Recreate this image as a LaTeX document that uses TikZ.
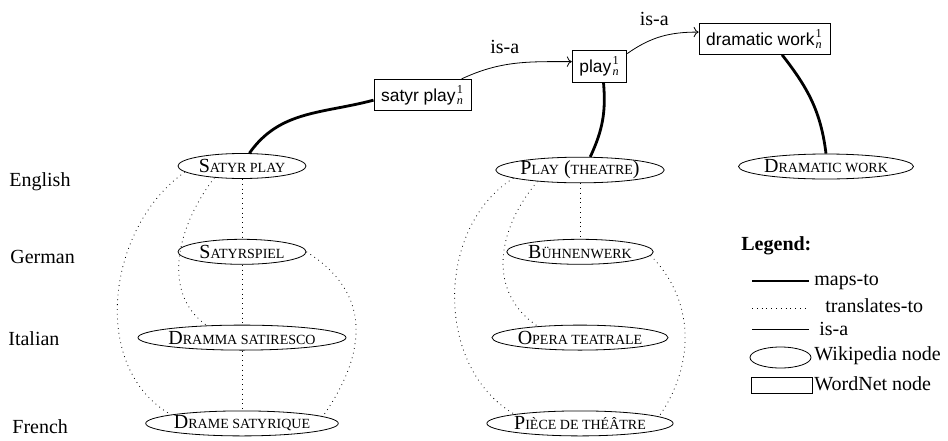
\documentclass[tikz,border=0pt]{standalone}
\usepackage{amsmath}
\usepackage{fontspec}
\setmainfont{Liberation Serif}
\setsansfont{Liberation Sans}
\usetikzlibrary{arrows.meta,positioning,shapes.geometric}
\newcommand{\smc}{\fontsize{7}{8}\selectfont}
\newcommand{\synidx}{\kern.6pt$^{\textrm{1}}_{\textrm{\itshape n}}$}
\tikzset{
  wpnode/.style={draw, ellipse, inner sep=0pt, minimum width=64pt, minimum height=12.5pt},
  wnbox/.style={draw, rectangle, inner xsep=3.6pt, inner ysep=3pt, font={\sffamily\fontsize{8.7}{10}\selectfont}},
  langlbl/.style={anchor=base west, inner sep=0pt},
  legtxt/.style={anchor=base west, inner sep=0pt},
  mapsto/.style={line width=1.4pt},
  transto/.style={dotted},
  isaarr/.style={->}
}

\begin{document}
\begin{tikzpicture}[x=0.5pt, y=-0.5pt, node distance=30pt]
  \useasboundingbox (0,0) rectangle (948,440);
  % WordNet synsets
  \node[wnbox] (wnsatyr) at (422.5,95) {satyr play\synidx};
  \node[wnbox] (wnplay) at (599.5,66.5) {play\synidx};
  \node[wnbox] (wndrama) at (764.5,39) {dramatic work\synidx};
  % Wikipedia pages
  \node[wpnode] (wpsatyr) at (242,166) {S{\smc ATYR PLAY}};
  \node[wpnode, below=of wpsatyr] (wpsatyrde) {S{\smc ATYRSPIEL}};
  \node[wpnode, below=of wpsatyrde] (wpsatyrit) {D{\smc RAMMA SATIRESCO}};
  \node[wpnode, below=of wpsatyrit] (wpsatyrfr) {D{\smc RAME SATYRIQUE}};
  \node[wpnode] (wpplay) at (580,170) {P{\smc LAY} ({\smc THEATRE})};
  \node[wpnode] (wpplayde) at (wpsatyrde -| wpplay) {B{\smc ÜHNENWERK}};
  \node[wpnode] (wpplayit) at (wpsatyrit -| wpplay) {O{\smc PERA TEATRALE}};
  \node[wpnode] (wpplayfr) at (wpsatyrfr -| wpplay) {P{\smc IÈCE DE THÉÂTRE}};
  \node[wpnode] (wpdrama) at (826,166.5) {D{\smc RAMATIC WORK}};
  % languages
  \node[langlbl] (lgen) at (9,186) {English};
  \node[langlbl] (lgde) at (10,263) {German};
  \node[langlbl] (lgit) at (8,345) {Italian};
  \node[langlbl] (lgfr) at (12,433) {French};
  % is-a
  \draw[isaarr] ([xshift=-5pt]wnsatyr.north east) to[out=25,in=180] node[pos=.4, above=2pt] {is-a} (wnplay.170);
  \draw[isaarr] (wnplay.25) to[out=35,in=180] node[pos=.4, above=3pt] {is-a} (wndrama.174);
  % maps-to
  \draw[mapsto] (wnsatyr.186) to[out=195,in=55] (wpsatyr.60);
  \draw[mapsto] ([xshift=2pt]wnplay.south) to[out=-85,in=65] (wpplay.52);
  \draw[mapsto] (wndrama.-42) to[out=-52,in=97] (wpdrama.north);
  % translates-to
  \draw[transto] (wpsatyr) -- (wpsatyrde);
  \draw[transto] (wpsatyrde) -- (wpsatyrit);
  \draw[transto] (wpsatyrit) -- (wpsatyrfr);
  \draw[transto] (wpsatyr.203) to[out=232,in=145] (wpsatyrit.161);
  \draw[transto] (wpsatyr.186) to[out=215,in=150] (wpsatyrfr.173);
  \draw[transto] (wpsatyrde.east) to[out=-32,in=55,looseness=1.2] (wpsatyrfr.5);
  \draw[transto] (wpplay) -- (wpplayde);
  \draw[transto] (wpplay.195) to[out=230,in=146,looseness=1.1] (wpplayit.165);
  \draw[transto] (wpplay.187) to[out=212,in=150] (wpplayfr.172);
  \draw[transto] (wpplayde.-3) to[out=-45,in=55] (wpplayfr.5);
  % legend
  \node[legtxt, font=\bfseries] (lgtitle) at (741,250) {Legend:};
  \coordinate (kmapsa) at (752,281);
  \coordinate (kmapsb) at (809,281);
  \draw[mapsto] (kmapsa) -- (kmapsb);
  \node[legtxt] (lgmaps) at (814,285) {maps-to};
  \coordinate (ktransa) at (752,308);
  \coordinate (ktransb) at (809,308);
  \draw[transto] (ktransa) -- (ktransb);
  \node[legtxt] (lgtrans) at (825,312) {translates-to};
  \coordinate (kisaa) at (752,329);
  \coordinate (kisab) at (809,329);
  \draw (kisaa) -- (kisab);
  \node[legtxt] (lgisa) at (819,335) {is-a};
  \node[wpnode, minimum width=30.5pt, minimum height=10.5pt] (lgwp) at (780.5,357.5) {};
  \node[legtxt] (lgwptxt) at (814,360) {Wikipedia node};
  \node[draw, inner sep=0pt, minimum width=30.5pt, minimum height=8pt] (lgwn) at (781.5,385) {};
  \node[legtxt] (lgwntxt) at (814,390) {WordNet node};
\end{tikzpicture}
\end{document}
